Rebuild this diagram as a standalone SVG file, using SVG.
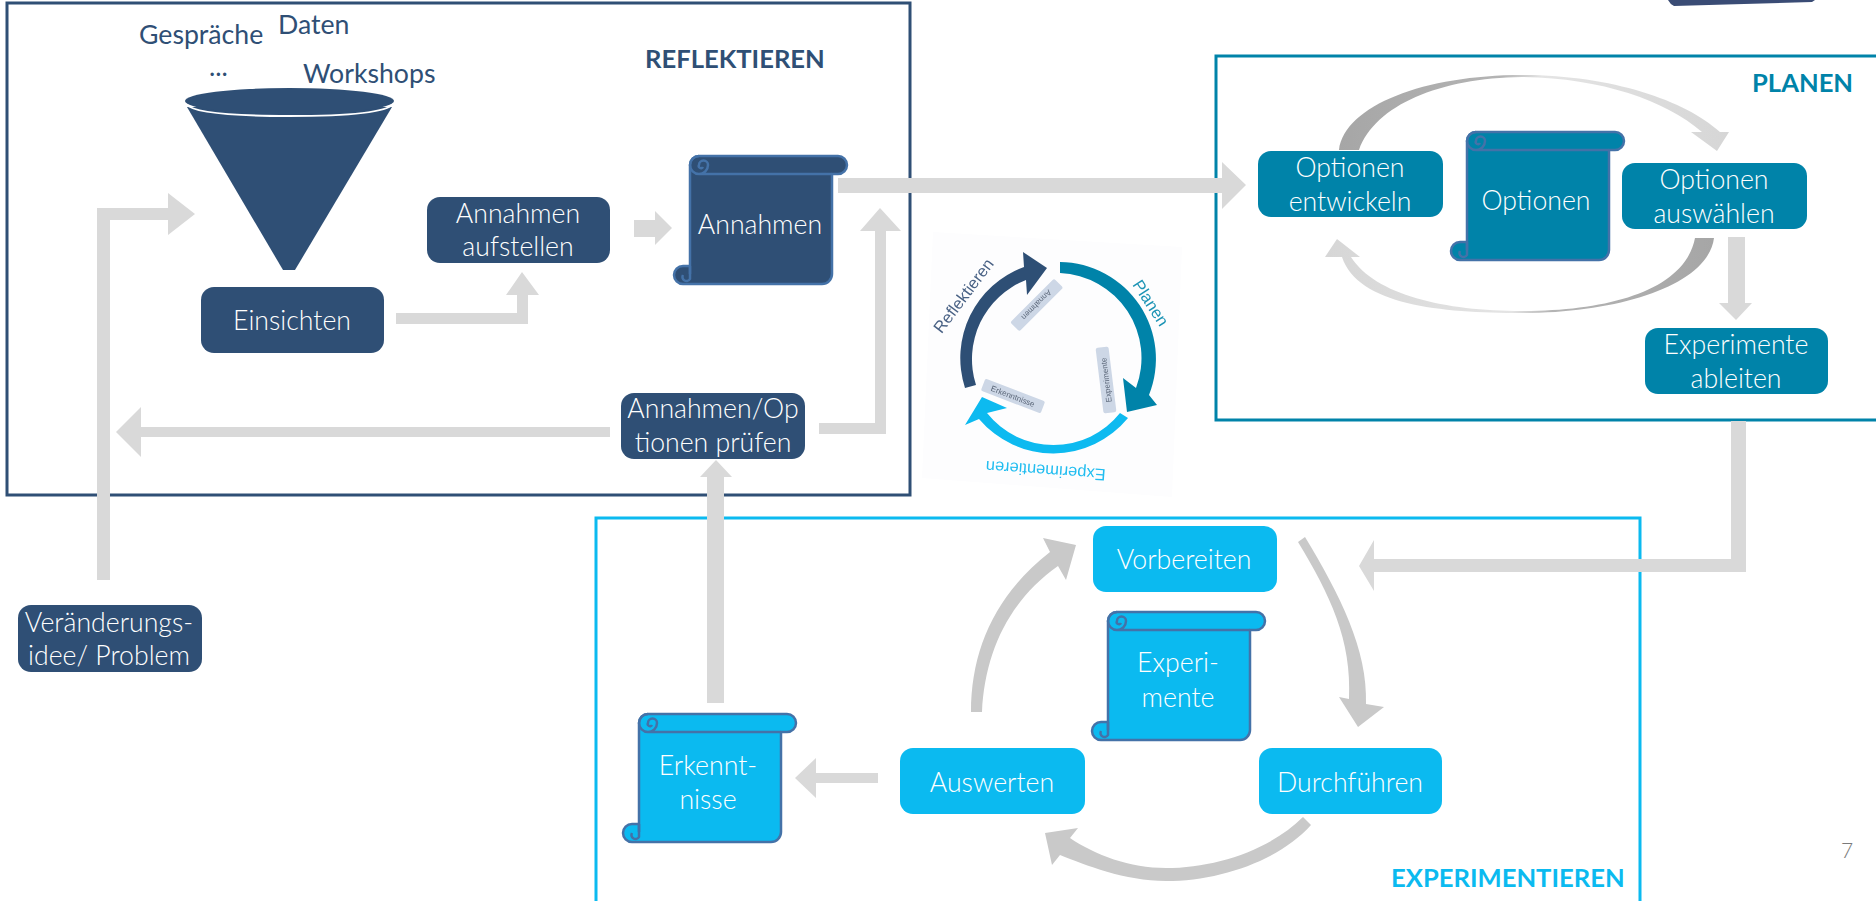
<svg xmlns="http://www.w3.org/2000/svg" xmlns:xlink="http://www.w3.org/1999/xlink" width="1876" height="901" viewBox="0 0 1876 901">
<style>
text{font-family:"Lato","Open Sans","Liberation Sans",sans-serif;font-size:26.67px;font-weight:300;text-anchor:middle;fill:#fff}
.lbl{fill:#2f4f75;text-anchor:start;font-weight:400}
.h{font-weight:700;font-size:25.6px;text-anchor:start}
.frame{fill:none;stroke-width:3}
.navy{fill:#2f4f75}.teal{fill:#0083a9}.sky{fill:#0bbaf0}
.a{fill:#d9d9d9}
.b{fill:#c9c9c9}
.sc{stroke:#4472a8;stroke-width:2.5;stroke-linejoin:round}
.cl{fill:none;stroke:#4472a8;stroke-width:2.5}
.pill{fill:#cdd7e6}
.cyc{font-family:"Liberation Sans",sans-serif;font-size:8px;font-weight:400;fill:#5a6678}
.cyc2{font-family:"Liberation Sans",sans-serif;font-size:16.500px;font-weight:400}
</style>
<defs>
<g id="scroll">
<path d="M16 118V9A9 9 0 0 1 25 0H164A9 9 0 0 1 164 18H158V118A10 10 0 0 1 148 128H9A9 9 0 0 1 9 110H16"/>
<path class="cl" d="M25 18H158M25 18A9 9 0 0 1 25 0M25 18A9 9 0 0 0 34 9A4.500 4.500 0 0 0 25 9A2 2 0 0 0 29 11M16 110V123A3.500 3.500 0 0 1 9 119"/>
</g>
<linearGradient id="gTop" x1="0" x2="1" y1="0" y2="0"><stop offset="0" stop-color="#a6a6a6"/><stop offset=".42" stop-color="#b4b4b4"/><stop offset=".52" stop-color="#e4e4e4"/><stop offset="1" stop-color="#d6d6d6"/></linearGradient>
<linearGradient id="gBot" x1="1" x2="0" y1="0" y2="0"><stop offset="0" stop-color="#a6a6a6"/><stop offset=".42" stop-color="#b4b4b4"/><stop offset=".52" stop-color="#e4e4e4"/><stop offset="1" stop-color="#d6d6d6"/></linearGradient>
<filter id="soft"><feGaussianBlur stdDeviation=".45"/></filter>
</defs>

<rect width="1876" height="901" fill="#fff"/>
<path id="corner" d="M1668 0H1815L1812 2Q1740 4 1674 6Q1670 4 1668 0Z" fill="#3a4c75"/>

<g id="frames">
<rect class="frame" x="7" y="3" width="903" height="492" stroke="#2f4f75"/>
<path class="frame" d="M1876 56H1216V420H1876" stroke="#0083a9"/>
<path class="frame" d="M596 901V518H1640V901" stroke="#0bbaf0"/>
</g>

<g id="connectors">
<path class="a" d="M396 313H517V295H506L522 272L539 295H528V324H396Z"/>
<path class="a" d="M634 220H655V211L672 228L655 245V237H634Z"/>
<path class="a" d="M838 178H1222V162L1246 185L1222 209V193H838Z"/>
<path class="a" d="M819 423H875V231H860L880 208L901 231H886V434H819Z"/>
<path class="a" d="M610 427H141V407L116 432L141 457V437H610Z"/>
<path class="a" d="M97 580V208H168V193L195 214L168 235V220H110V580Z"/>
<path class="a" d="M707 703V477H700L716 460L732 477H724V703Z"/>
<path class="a" d="M1731 421V559H1374V540L1359 566L1374 591V572H1746V421Z"/>
<path class="a" d="M1728 237V303H1719L1736 320L1752 303H1745V237Z"/>
<path class="a" d="M816 758L795 778L816 798V783H878V773H816Z"/>
<path fill="url(#gTop)" d="M1339 150C1345 105 1425 75 1522 75C1610 75 1685 100 1720 132L1729 132L1717 151L1691 132L1702 132C1665 100 1600 78 1522 77C1440 78 1375 105 1359 150Z"/>
<path fill="url(#gBot)" d="M1714 238C1708 285 1620 313 1522 313C1440 313 1358 305 1342 257L1325 257L1337 239L1360 257L1351 257C1375 295 1445 311 1522 311C1610 311 1685 290 1695 238Z"/>
<path class="b" d="M1298 542L1305 537C1340 595 1368 650 1366 704L1384 707L1358 727L1339 697L1349 699C1352 640 1330 595 1298 542Z"/>
<path class="b" d="M971 712C971 650 995 595 1050 552L1043 538L1076 545L1066 580L1058 566C1010 600 985 650 982 712Z"/>
<path class="b" d="M1311 825C1280 860 1220 881 1166 881C1125 881 1085 865 1060 855L1052 865L1045 833L1078 828L1070 838C1095 855 1130 868 1166 868C1215 868 1270 850 1303 817Z"/>
</g>

<g id="funnel">
<path class="navy" d="M187 107L283 270H295L392 107Z"/>
<ellipse cx="289.500" cy="101" rx="104.500" ry="13" fill="#2f4f75"/>
<path d="M186 104Q195 116 289 116Q384 116 393 104" fill="none" stroke="#fff" stroke-width="2"/>
</g>

<g id="input-labels">
<text class="lbl" x="139" y="44">Gespräche</text>
<text class="lbl" x="278" y="34">Daten</text>
<text class="lbl" x="303" y="83">Workshops</text>
<text class="lbl" x="209" y="76">...</text>
</g>
<text id="t-reflektieren" class="lbl h" x="645" y="68">REFLEKTIEREN</text>
<text id="t-planen" class="h" x="1752" y="92" style="fill:#0083a9">PLANEN</text>
<text id="t-experimentieren" class="h" x="1391" y="887" style="fill:#0bbaf0">EXPERIMENTIEREN</text>

<g id="einsichten"><rect class="navy" x="201" y="287" width="183" height="66" rx="13"/><text x="292" y="330">Einsichten</text></g>
<g id="annahmen-aufstellen"><rect class="navy" x="427" y="197" width="183" height="66" rx="13"/><text x="518" y="223">Annahmen</text><text x="518" y="256">aufstellen</text></g>
<g id="annahmen"><use xlink:href="#scroll" href="#scroll" x="674" y="156" class="navy sc"/><text x="760" y="234">Annahmen</text></g>
<g id="pruefen"><rect class="navy" x="621" y="393" width="184" height="66" rx="13"/><text x="713" y="418">Annahmen/Op</text><text x="713" y="452">tionen prüfen</text></g>
<g id="veraenderung"><rect class="navy" x="18" y="605" width="184" height="67" rx="13"/><text x="109" y="632">Veränderungs-</text><text x="109" y="665">idee/ Problem</text></g>

<g id="optionen-entwickeln"><rect class="teal" x="1258" y="151" width="185" height="66" rx="13"/><text x="1350" y="177">Optionen</text><text x="1350" y="211">entwickeln</text></g>
<g id="optionen"><use xlink:href="#scroll" href="#scroll" x="1451" y="132" class="teal sc"/><text x="1536" y="210">Optionen</text></g>
<g id="optionen-auswaehlen"><rect class="teal" x="1622" y="163" width="185" height="66" rx="13"/><text x="1714" y="189">Optionen</text><text x="1714" y="223">auswählen</text></g>
<g id="experimente-ableiten"><rect class="teal" x="1645" y="328" width="183" height="66" rx="13"/><text x="1736" y="354">Experimente</text><text x="1736" y="388">ableiten</text></g>

<g id="vorbereiten"><rect class="sky" x="1093" y="526" width="184" height="66" rx="13"/><text x="1184" y="569">Vorbereiten</text></g>
<g id="experimente"><use xlink:href="#scroll" href="#scroll" x="1092" y="612" class="sky sc"/><text x="1178" y="672">Experi-</text><text x="1178" y="707">mente</text></g>
<g id="auswerten"><rect class="sky" x="900" y="748" width="185" height="66" rx="13"/><text x="992" y="792">Auswerten</text></g>
<g id="durchfuehren"><rect class="sky" x="1259" y="748" width="183" height="66" rx="13"/><text x="1350" y="792">Durchführen</text></g>
<g id="erkenntnisse"><use xlink:href="#scroll" href="#scroll" x="623" y="714" class="sky sc"/><text x="708" y="775">Erkennt-</text><text x="708" y="809">nisse</text></g>

<g id="cycle" filter="url(#soft)">
<path d="M933 232L1182 247L1172 497L922 478Z" fill="#fdfdfe"/>
<path class="navy" d="M965 388A97 97 0 0 1 1024 267L1023 252L1047 268L1027 295L1026 280A85 85 0 0 0 976 385Z"/>
<path class="teal" d="M1060 262A97 97 0 0 1 1149 395L1157 405L1127 412L1123 378L1136 388A85 85 0 0 0 1060 273Z"/>
<path class="sky" d="M1128 418A97 97 0 0 1 979 419L965 425L982 397L1007 408L987 413A85 85 0 0 0 1120 413Z"/>
<g transform="translate(1036.700 305) rotate(135)"><rect class="pill" x="-31" y="-6.500" width="62" height="13" rx="2"/><text class="cyc" y="3">Annahmen</text></g>
<g transform="translate(1106 380) rotate(-97)"><rect class="pill" x="-33" y="-6.500" width="66" height="13" rx="2"/><text class="cyc" y="3">Experimente</text></g>
<g transform="translate(1013 396) rotate(21)"><rect class="pill" x="-32" y="-6.500" width="64" height="13" rx="2"/><text class="cyc" y="3">Erkenntnisse</text></g>
<text class="cyc2" style="fill:#4a6285" transform="translate(968 299) rotate(-53)">Reflektieren</text>
<text class="cyc2" style="fill:#1d94b5" transform="translate(1146 306) rotate(57)">Planen</text>
<text class="cyc2" style="fill:#20bdf0" transform="translate(1046 465) rotate(184)">Experimentieren</text>
</g>

<text id="page" x="1847" y="858" style="font-size:21px;fill:#7a7a7a">7</text>
</svg>
